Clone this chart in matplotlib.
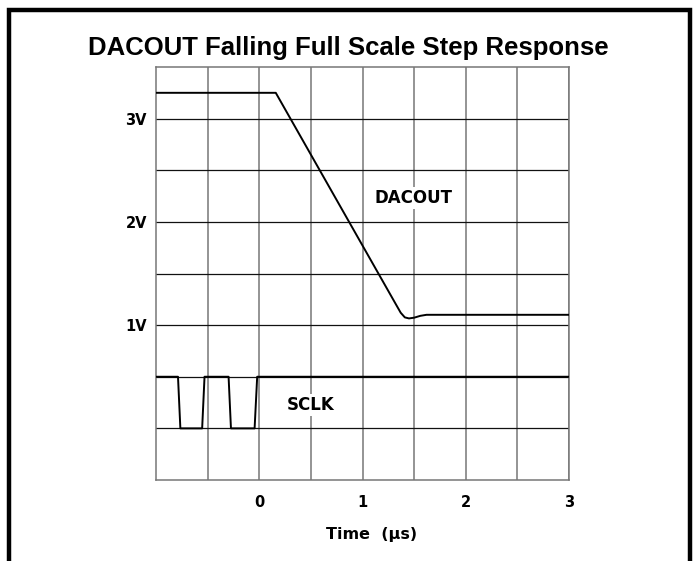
import numpy as np
import matplotlib
matplotlib.use("Agg")
from matplotlib import pyplot as plt
from matplotlib.patches import Rectangle

# DACOUT trace (time in us, volts)
dac_t = [-1.0, 0.16, 1.33, 1.37, 1.41, 1.45, 1.50, 1.56, 1.62, 1.68, 3.0]
dac_v = [3.25, 3.25, 1.19, 1.12, 1.075, 1.065, 1.072, 1.09, 1.10, 1.10, 1.10]

# SCLK trace
sclk_t = [-1.0, -0.787, -0.764, -0.553, -0.53, -0.297, -0.274, -0.045, -0.02, 3.0]
sclk_v = [0.5, 0.5, 0.0, 0.0, 0.5, 0.5, 0.0, 0.0, 0.5, 0.5]

x_ticks = [0, 1, 2, 3]
x_labels = ["0", "1", "2", "3"]
y_ticks = [1, 2, 3]
y_labels = ["1V", "2V", "3V"]

plt.rcParams['font.family'] = ['DejaVu Sans']
lab_font = dict(family='DejaVu Sans', fontweight='bold')

W, H = 696, 561
fig = plt.figure(figsize=(W / 100, H / 100), dpi=100)

# outer frame (open at the bottom)
fig.patches.append(Rectangle((9 / W, -0.05), (689.5 - 9) / W, 1.05 - 10 / H,
                             transform=fig.transFigure, fill=False,
                             edgecolor='black', linewidth=3.2))

ax = fig.add_axes([156 / W, 1 - 480 / H, (569 - 156) / W, (480 - 67) / H])
ax.set_xlim(-1, 3)
ax.set_ylim(-0.5, 3.5)

ax.set_xticks(x_ticks)
ax.set_xticklabels(x_labels, fontsize=10.5, **lab_font)
ax.set_yticks(y_ticks)
ax.set_yticklabels(y_labels, fontsize=10.5, **lab_font)
ax.set_xticks(np.arange(-0.5, 3, 0.5), minor=True)
ax.set_yticks(np.arange(0, 3.5, 0.5), minor=True)
ax.tick_params(which='both', length=0)
ax.tick_params(axis='x', pad=11)
ax.tick_params(axis='y', pad=6.5)

ax.xaxis.grid(True, which='both', color='#777777', linewidth=1.1)
ax.yaxis.grid(True, which='both', color='#111111', linewidth=0.9)
ax.set_axisbelow(True)
for s in ax.spines.values():
    s.set_color('#777777')
    s.set_linewidth(1.1)

ax.plot(dac_t, dac_v, color='black', linewidth=1.4, zorder=3)
ax.plot(sclk_t, sclk_v, color='black', linewidth=1.4, zorder=3)

box = dict(facecolor='white', edgecolor='none', pad=1.5)
ax.text(1.49, 2.23, "DACOUT", fontsize=12, ha='center', va='center',
        bbox=box, zorder=4, **lab_font)
ax.text(0.50, 0.23, "SCLK", fontsize=12, ha='center', va='center',
        bbox=box, zorder=4, **lab_font)

ax.set_xlabel("Time  (\u00b5s)", fontsize=11.5, **lab_font)
ax.xaxis.set_label_coords((372 - 156) / (569 - 156), -(527 - 480) / (480 - 67))

fig.text(0.5, 1 - 48 / H, "DACOUT Falling Full Scale Step Response",
         ha='center', va='center', fontsize=18.5, fontweight='bold',
         family='Liberation Sans')

fig.savefig("out.png", dpi=100)
